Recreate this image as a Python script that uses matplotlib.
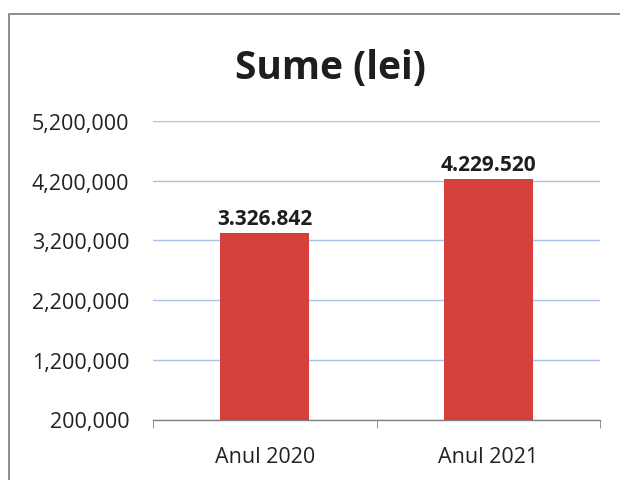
import matplotlib
import matplotlib.pyplot as plt
from matplotlib.patches import Rectangle
from matplotlib.ticker import FixedLocator, FuncFormatter

matplotlib.use("Agg")

categories = ["Anul 2020", "Anul 2021"]
values = [3326842, 4229520]
value_labels = ["3.326.842", "4.229.520"]
y_ticks = [200000, 1200000, 2200000, 3200000, 4200000, 5200000]

plt.rcParams["font.family"] = ["Open Sans", "DejaVu Sans"]

fig = plt.figure(figsize=(6.2, 4.81), dpi=100)
fig.patch.set_facecolor("white")

# chart frame (runs off the right and bottom edge)
fig.patches.append(Rectangle((9 / 620, -0.1), 1.2, 1 - 15 / 481 + 0.1,
                             transform=fig.transFigure, fill=False,
                             edgecolor="#7a7a7a", linewidth=1.2))

ax = fig.add_axes([153 / 620, 1 - 420.5 / 481, (600 - 153) / 620, (420.5 - 122) / 481])
x = range(len(categories))
ax.bar(x, [v - y_ticks[0] for v in values], bottom=y_ticks[0], width=0.40,
       color="#d6403a", edgecolor="none", zorder=3)

for xi, v, lab in zip(x, values, value_labels):
    ax.annotate(lab, (xi, v), xytext=(0, 3), textcoords="offset points",
                ha="center", va="bottom", fontsize=15, fontweight="bold",
                color="#1e1e1e")

ax.set_xlim(-0.5, 1.5)
ax.set_ylim(y_ticks[0], y_ticks[-1])
ax.yaxis.set_major_locator(FixedLocator(y_ticks))
ax.yaxis.set_major_formatter(FuncFormatter(lambda v, _: f"{int(v):,}"))
ax.grid(axis="y", color="#a9c3e8", linewidth=1.0, zorder=0)
ax.tick_params(axis="y", length=0, pad=17, labelsize=15.5, labelcolor="#222222")

ax.set_xticks(list(x))
ax.set_xticklabels(categories)
ax.tick_params(axis="x", length=0, pad=19, labelsize=15.5, labelcolor="#222222")
ax.xaxis.set_minor_locator(FixedLocator([-0.5, 0.5, 1.5]))
ax.tick_params(axis="x", which="minor", length=6, direction="out", color="#808080")

for side in ("left", "right", "top"):
    ax.spines[side].set_visible(False)
ax.spines["bottom"].set_color("#808080")
ax.spines["bottom"].set_linewidth(1.0)

fig.text(330 / 620, 1 - 68 / 481, "Sume (lei)", ha="center", va="center",
         fontsize=28, fontweight="bold", color="#1e1e1e")

fig.savefig("out.png", dpi=100)
